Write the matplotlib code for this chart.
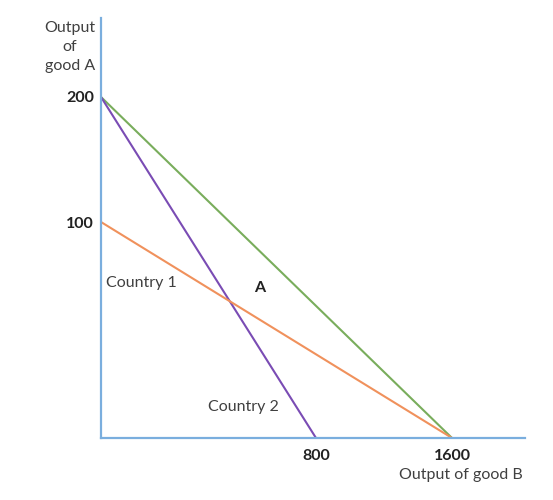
import numpy as np
import matplotlib
matplotlib.use("Agg")
import matplotlib.pyplot as plt

# Data
series_names = ["Combined", "Country 2", "Country 1"]
good_b_max = [1600, 800, 1600]   # x-intercepts (output of good B)
good_a_max = [200, 200, 100]     # y-intercepts (output of good A)
colors = ["#79ad5c", "#7a4cb4", "#f0915c"]
xticks = [800, 1600]
yticks = [100, 200]

# Schematic (non-proportional) axes as drawn in the reference
xs_data = [0, 800, 1600, 3200]
xs_px = [0, 215, 351, 623]
ys_data = [0, 100, 200, 400]
ys_px = [0, 216, 341, 591]

def fx(v): return np.interp(v, xs_data, xs_px)
def ix(v): return np.interp(v, xs_px, xs_data)
def fy(v): return np.interp(v, ys_data, ys_px)
def iy(v): return np.interp(v, ys_px, ys_data)

plt.rcParams['font.family'] = ['Lato', 'DejaVu Sans']
FS = 11.5

fig = plt.figure(figsize=(5.53, 5.00), dpi=100)
ax = fig.add_axes([101/553, 62/500, 424/553, 420/500])
ax.set_xscale('function', functions=(fx, ix))
ax.set_yscale('function', functions=(fy, iy))

for bmax, amax, c in zip(good_b_max, good_a_max, colors):
    ax.plot([0, bmax], [amax, 0], color=c, lw=1.5, solid_capstyle='butt')

ax.set_xlim(0, ix(424))
ax.set_ylim(0, iy(420))

for s in ['top', 'right']:
    ax.spines[s].set_visible(False)
for s in ['left', 'bottom']:
    ax.spines[s].set_color('#7aaede')
    ax.spines[s].set_linewidth(1.6)

ax.set_xticks(xticks)
ax.set_xticklabels([str(v) for v in xticks], fontweight='bold', fontsize=FS, color='#222222')
ax.set_yticks(yticks)
ax.set_yticklabels([str(v) for v in yticks], fontweight='bold', fontsize=FS, color='#222222')
ax.tick_params(axis='x', length=0, pad=8)
ax.tick_params(axis='y', length=0, pad=5)
ax.minorticks_off()

txt = '#404040'
ax.text(-0.073, 0.931, "Output\nof\ngood A", transform=ax.transAxes, ha='center', va='center',
        fontsize=FS, color=txt, linespacing=1.42)
ax.text(0.849, -0.088, "Output of good B", transform=ax.transAxes, ha='center', va='center',
        fontsize=FS, color=txt)
ax.text(0.012, 0.369, "Country 1", transform=ax.transAxes, ha='left', va='center',
        fontsize=FS, color=txt)
ax.text(0.375, 0.357, "A", transform=ax.transAxes, ha='center', va='center',
        fontsize=FS, color='#222222', fontweight='bold')
ax.text(0.335, 0.074, "Country 2", transform=ax.transAxes, ha='center', va='center',
        fontsize=FS, color=txt)

fig.savefig("out.png", dpi=100)
